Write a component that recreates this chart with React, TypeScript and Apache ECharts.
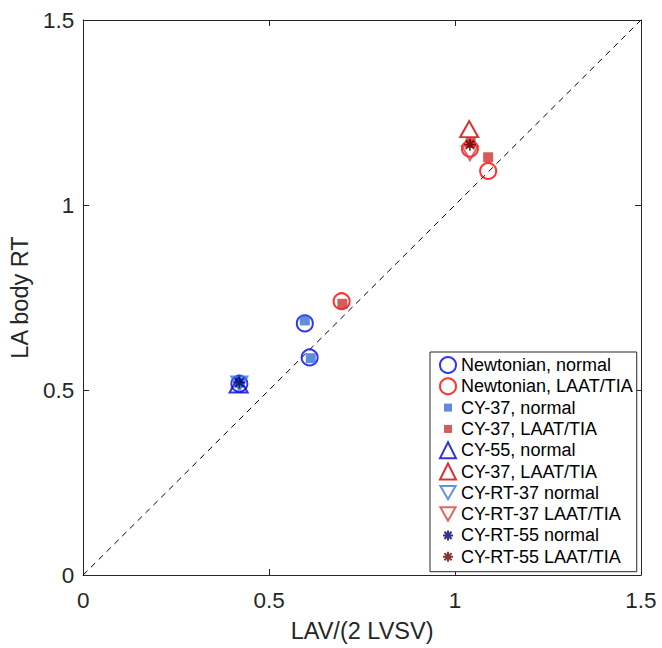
import React, { useEffect, useRef } from 'react';
import * as echarts from 'echarts';

// ---- data (x = LAV/(2 LVSV), y = LA body RT) ----
const newtonianNormal = [[0.596, 0.68], [0.609, 0.588], [0.42, 0.517]];
const newtonianLaat = [[0.695, 0.74], [1.04, 1.152], [1.089, 1.092]];
const cy37Normal = [[0.596, 0.688], [0.612, 0.586], [0.42, 0.52]];
const cy37Laat = [[0.697, 0.733], [1.089, 1.129], [1.042, 1.168]];
const cy55Normal = [[0.418, 0.515]];
const cy55Laat = [[1.038, 1.205]];
const cyRt37Normal = [[0.42, 0.518]];
const cyRt37Laat = [[1.04, 1.14]];
const cyRt55Normal = [[0.42, 0.52]];
const cyRt55Laat = [[1.04, 1.163]];
const identityLine = [[0, 0], [1.5, 1.5]];

const seriesNames = [
  'Newtonian, normal',
  'Newtonian, LAAT/TIA',
  'CY-37, normal',
  'CY-37, LAAT/TIA',
  'CY-55, normal',
  'CY-55, LAAT/TIA', // shown in the legend as "CY-37, LAAT/TIA"
  'CY-RT-37 normal',
  'CY-RT-37 LAAT/TIA',
  'CY-RT-55 normal',
  'CY-RT-55 LAAT/TIA',
];
const legendLabels: Record<string, string> = {
  'CY-55, LAAT/TIA': 'CY-37, LAAT/TIA',
};

const xTicks = [0, 0.5, 1, 1.5];
const yTicks = [0, 0.5, 1, 1.5];

const STAR = 'path://M0,-1L0,1M-1,0L1,0M-0.72,-0.72L0.72,0.72M-0.72,0.72L0.72,-0.72';
const STAR_LEG = 'path://M-1.6,-1.6M0,-1L0,1M-1,0L1,0M-0.72,-0.72L0.72,0.72M-0.72,0.72L0.72,-0.72M1.6,1.6';
const DOWN = 'path://M0,0L2,0L1,1.75Z';
const DOWN_LEG = 'path://M0,0L2,0L1,1.75ZM-0.05,-0.12M2.05,1.9';
const SQUARE_LEG = 'path://M-1,-1M-0.5,-0.5L0.5,-0.5L0.5,0.5L-0.5,0.5ZM1,1';

const FONT = 'Liberation Sans, Arial, Helvetica, sans-serif';
const AX = '#262626';

export default function App() {
  const ref = useRef<HTMLDivElement>(null);
  useEffect(() => {
    if (!ref.current) return;
    const chart = echarts.init(ref.current, undefined, { renderer: 'svg' });
    const hollow = (c: string, w = 2) => ({ color: 'rgba(0,0,0,0)', borderColor: c, borderWidth: w });
    const filled = (c: string) => ({ color: c, borderWidth: 0 });
    const star = (c: string) => ({ color: c, borderColor: c, borderWidth: 1.8 });

    const specs: any[] = [
      { data: newtonianNormal, symbol: 'circle', size: 16, style: hollow('#0000ff'), icon: 'circle' },
      { data: newtonianLaat, symbol: 'circle', size: 16, style: hollow('#ff0000'), icon: 'circle' },
      { data: cy37Normal, symbol: 'rect', size: 10, style: filled('#3a6fd6'), icon: SQUARE_LEG },
      { data: cy37Laat, symbol: 'rect', size: 10, style: filled('#cc3333'), icon: SQUARE_LEG },
      { data: cy55Normal, symbol: 'triangle', size: [18, 16], style: hollow('#0000cc'), icon: 'triangle' },
      { data: cy55Laat, symbol: 'triangle', size: [18, 16], style: hollow('#cc0000'), icon: 'triangle' },
      { data: cyRt37Normal, symbol: DOWN, size: [16, 14], style: hollow('#3a76dd'), icon: DOWN_LEG },
      { data: cyRt37Laat, symbol: DOWN, size: [16, 14], style: hollow('#dd3c3c'), icon: DOWN_LEG },
      { data: cyRt55Normal, symbol: STAR, size: 12, style: star('#000066'), icon: STAR_LEG },
      { data: cyRt55Laat, symbol: STAR, size: 12, style: star('#660000'), icon: STAR_LEG },
    ];

    const scatterSeries = specs.map((s, i) => ({
      name: seriesNames[i],
      type: 'scatter',
      xAxisIndex: 0,
      yAxisIndex: 0,
      data: s.data,
      symbol: s.symbol,
      symbolSize: s.size,
      itemStyle: s.style,
      z: 3 + i,
    }));

    const axisCommon = {
      type: 'value',
      min: 0,
      max: 1.5,
      interval: 0.5,
      splitLine: { show: false },
      axisLine: { show: true, onZero: false, lineStyle: { color: AX, width: 1 } },
      axisTick: { show: true, inside: true, length: 6, lineStyle: { color: AX } },
    };

    chart.setOption({
      animation: false,
      backgroundColor: '#ffffff',
      textStyle: { fontFamily: FONT },
      grid: { left: 81, right: 21, top: 20, bottom: 70, containLabel: false },
      xAxis: [
        {
          ...axisCommon,
          position: 'bottom',
          name: 'LAV/(2 LVSV)',
          nameLocation: 'middle',
          nameGap: 44,
          nameTextStyle: { fontSize: 23.5, color: AX, fontFamily: FONT },
          axisLabel: {
            fontSize: 22.5,
            color: AX,
            fontFamily: FONT,
            margin: 14,
            formatter: (v: number) => (xTicks.includes(v) ? String(v) : ''),
          },
        },
        {
          ...axisCommon,
          position: 'top',
          axisLabel: { show: false },
        },
      ],
      yAxis: [
        {
          ...axisCommon,
          position: 'left',
          name: 'LA body RT',
          nameLocation: 'middle',
          nameGap: 38,
          nameTextStyle: { fontSize: 23.5, color: AX, fontFamily: FONT },
          axisLabel: {
            fontSize: 22.5,
            color: AX,
            fontFamily: FONT,
            margin: 9,
            formatter: (v: number) => (yTicks.includes(v) ? String(v) : ''),
          },
        },
        {
          ...axisCommon,
          position: 'right',
          axisLabel: { show: false },
        },
      ],
      legend: {
        orient: 'vertical',
        left: 430,
        top: 352,
        padding: [4, 4, 6, 9],
        itemWidth: 16,
        itemHeight: 16,
        itemGap: 3.3,
        itemTextGap: 11,
        backgroundColor: '#ffffff',
        borderColor: AX,
        borderWidth: 1,
        borderRadius: 0,
        textStyle: { fontSize: 18, color: '#000000', fontFamily: FONT },
        formatter: (name: string) => legendLabels[name] || name,
        data: specs.map((s, i) => ({ name: seriesNames[i], icon: s.icon })),
      },
      series: [
        {
          name: 'identity',
          type: 'line',
          xAxisIndex: 0,
          yAxisIndex: 0,
          data: identityLine,
          symbol: 'none',
          silent: true,
          z: 1,
          lineStyle: { color: '#000000', width: 1, type: [6, 5] },
        },
        ...scatterSeries,
      ],
    });
    return () => chart.dispose();
  }, []);
  return (
    <div
      ref={ref}
      style={{ position: 'absolute', left: 0, top: 0, width: 662, height: 648 }}
    />
  );
}
